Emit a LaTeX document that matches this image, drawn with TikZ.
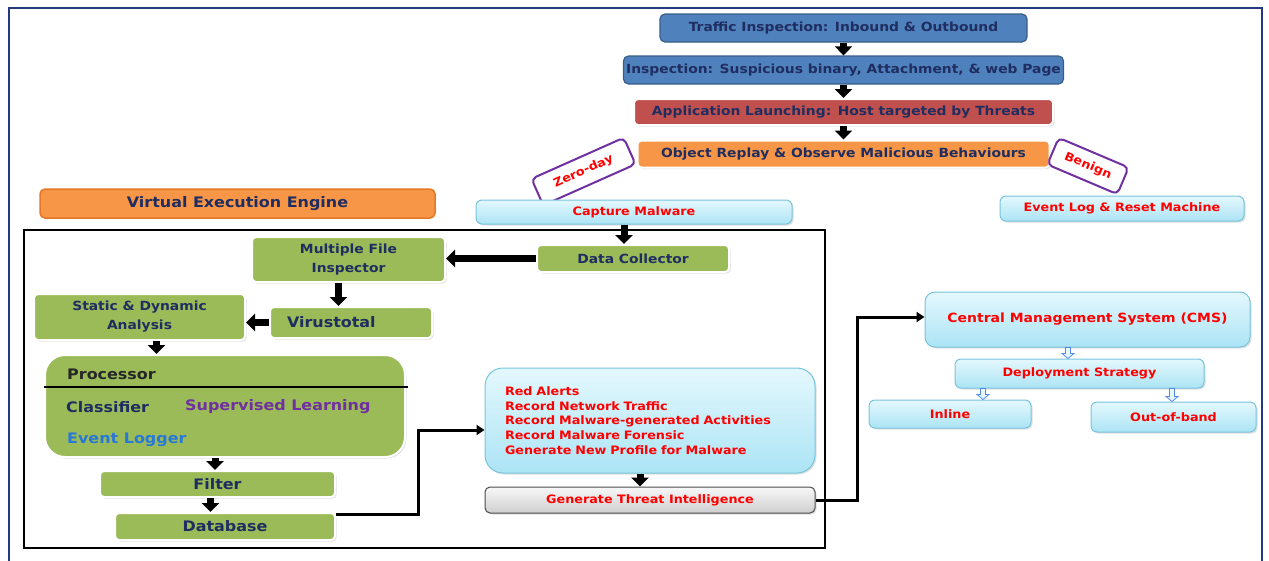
\documentclass[tikz,border=0pt]{standalone}
\usepackage{fontspec}
\setmainfont{DejaVu Sans}[FakeStretch=1.1]
\usetikzlibrary{arrows.meta,shadows,calc,positioning}

\definecolor{navytxt}{RGB}{31,45,96}
\definecolor{boxblue}{RGB}{79,129,189}
\definecolor{edgeblue}{RGB}{56,93,138}
\definecolor{boxred}{RGB}{192,80,77}
\definecolor{boxorange}{RGB}{247,150,70}
\definecolor{edgeorange}{RGB}{228,120,40}
\definecolor{boxgreen}{RGB}{155,187,89}
\definecolor{cyantop}{RGB}{228,248,253}
\definecolor{cyanbot}{RGB}{172,228,245}
\definecolor{cyanedge}{RGB}{120,196,222}
\definecolor{tagpurple}{RGB}{112,48,160}
\definecolor{logblue}{RGB}{40,120,215}
\definecolor{framenavy}{RGB}{36,58,128}
\definecolor{alertred}{RGB}{255,0,0}

\newcommand{\navyfont}{\fontsize{12.6}{19}\selectfont\bfseries}
\newcommand{\redfont}{\fontsize{11.6}{14.8}\selectfont\bfseries}
\newcommand{\bigfont}{\fontsize{14.5}{17}\selectfont\bfseries}

\begin{document}
\begin{tikzpicture}[x=1pt,y=-1pt,node distance=42pt,>=Triangle]
  \tikzstyle{every node}=[inner sep=0pt]
  \tikzstyle{soft}=[drop shadow={opacity=0.25,shadow xshift=1.5pt,shadow yshift=-1.5pt}]
  \tikzstyle{stage}=[rectangle,rounded corners=5pt,draw=edgeblue,fill=boxblue,
                     line width=1.2pt,text=navytxt,font=\navyfont,minimum height=28pt]
  \tikzstyle{glow}=[rectangle,rounded corners=4pt,draw=white,line width=2pt,soft,
                    text=navytxt,font=\navyfont,align=center]
  \tikzstyle{greenbox}=[glow,fill=boxgreen]
  \tikzstyle{cyanbox}=[rectangle,rounded corners=6pt,top color=cyantop,bottom color=cyanbot,
                       draw=cyanedge,line width=1pt,text=alertred,font=\redfont,soft]
  \tikzstyle{tag}=[rectangle,rounded corners=5pt,draw=tagpurple,line width=2pt,fill=white,
                   text=alertred,font=\redfont,minimum height=29pt]
  \tikzstyle{blk}=[-{Triangle[width=17pt,length=9pt]},line width=7pt]
  \tikzstyle{conn}=[-{Triangle[width=10pt,length=8pt]},line width=3pt]
  \tikzstyle{hollow}=[draw=cyanedge!70!blue,fill=cyantop,line width=0.8pt,
    to path={($(\tikztostart)+(-2.5,0)$) -- ($(\tikztotarget)+(-2.5,-5)$)
      -- ($(\tikztotarget)+(-6,-5)$) -- (\tikztotarget) -- ($(\tikztotarget)+(6,-5)$)
      -- ($(\tikztotarget)+(2.5,-5)$) -- ($(\tikztostart)+(2.5,0)$) -- cycle}]

  \useasboundingbox (0,0) rectangle (1269,560);
  \draw[framenavy,line width=2.5pt] (9,562) -- (9,8) -- (1262,8) -- (1262,562);

  % inspection chain
  \node[stage,minimum width=367pt] (t1) at (843.5,28) {Traffic Inspection: Inbound \& Outbound};
  \node[stage,minimum width=440pt] (t2) [below of=t1] {Inspection: Suspicious binary, Attachment, \& web Page};
  \node[glow,fill=boxred,minimum width=419pt,minimum height=26pt] (t3) [below of=t2]
    {Application Launching: Host targeted by Threats};
  \node[glow,fill=boxorange,minimum width=412pt,minimum height=27pt] (t4) [below of=t3]
    {Object Replay \& Observe Malicious Behaviours};
  \draw[blk] (t1.south) -- (t1.south |- t2.north);
  \draw[blk] (t2.south) -- (t2.south |- t3.north);
  \draw[blk] (t3.south) -- (t3.south |- t4.north);

  \node[tag,minimum width=101pt,rotate=24] (zday) at (583.5,171.5) {Zero-day};
  \node[tag,minimum width=76pt,rotate=-23] (benign) at (1088,166) {Benign};

  \node[cyanbox,minimum width=316pt,minimum height=24pt] (capture) at (634,212) {Capture Malware};
  \node[cyanbox,minimum width=244pt,minimum height=25pt] (evlog) at (1122,208.5) {Event Log \& Reset Machine};

  % virtual execution engine
  \node[rectangle,rounded corners=5pt,fill=boxorange,draw=edgeorange,line width=1.5pt,
        text=navytxt,font=\bigfont,minimum width=395pt,minimum height=29pt] (vee) at (237.5,203.5)
    {Virtual Execution Engine};
  \draw[line width=2.5pt] (24,230) rectangle (825,548);

  \node[greenbox,minimum width=192pt,minimum height=27pt] (dc) at (633,258.5) {Data Collector};
  \node[greenbox,minimum width=193pt,minimum height=45pt] (mfi) at (348.5,259.5) {Multiple File\\Inspector};
  \node[greenbox,minimum width=162pt,minimum height=31pt,font=\bigfont,align=left,
        text width=128pt] (vt) at (351,322.5) {Virustotal};
  \node[greenbox,minimum width=211pt,minimum height=46pt] (sda) at (139.5,317) {Static \& Dynamic\\Analysis};
  \node[greenbox,rounded corners=20pt,minimum width=360pt,minimum height=102pt] (proc) at (225,406) {};
  \node[greenbox,minimum width=235pt,minimum height=26pt,font=\bigfont] (filter) at (217.5,484) {Filter};
  \node[greenbox,minimum width=220pt,minimum height=27pt,font=\bigfont] (db) at (225,526.5) {Database};

  \coordinate (sep) at (0,387);
  \draw[line width=1.2pt] (proc.west |- sep) -- ([xshift=2pt]proc.east |- sep);
  \node[anchor=west,font=\bigfont,text=black!85] (ptitle) at (67,374) {Processor};
  \node[anchor=west,font=\bigfont,text=navytxt] (pcls) at (66,407) {Classifier};
  \node[anchor=west,font=\bigfont,text=tagpurple] (psup) at (185,407) {Supervised Learning};
  \node[anchor=west,font=\bigfont,text=logblue] (plog) at (67,440) {Event Logger};

  \draw[blk] ([xshift=-10pt]capture.south) -- ([xshift=-10pt]capture.south |- dc.north);
  \draw[blk] (dc.west) -- (mfi.east |- dc.west);
  \draw[blk] ([xshift=-10pt]mfi.south) -- ([xshift=-10pt]mfi.south |- vt.north);
  \draw[blk] (vt.west) -- (sda.east |- vt.west);
  \draw[blk] ([xshift=17pt]sda.south) -- ([xshift=17pt]sda.south |- proc.north);
  \draw[blk] ([xshift=-10pt]proc.south) -- ([xshift=-10pt]proc.south |- filter.north);
  \draw[blk] ([xshift=-7pt]filter.south) -- ([xshift=-7pt]filter.south |- db.north);

  % alerts and threat intelligence
  \node[cyanbox,rounded corners=18pt,align=left,text width=290pt,inner xsep=20pt,
        minimum height=105pt] (alerts) at (650,420.5)
    {Red Alerts\\Record Network Traffic\\Record Malware-generated Activities\\Record Malware Forensic\\Generate New Profile for Malware};
  \node[rectangle,rounded corners=5pt,top color=gray!6,bottom color=gray!38,draw=gray!60!black,
        line width=1pt,text=alertred,font=\redfont,minimum width=330pt,minimum height=26pt,soft]
    (gti) at (650,500) {Generate Threat Intelligence};
  \draw[blk] ([xshift=-10pt]alerts.south) -- ([xshift=-10pt]alerts.south |- gti.north);

  \coordinate (j1) at (418,430);
  \draw[conn] ([yshift=12.5pt]db.east) -| (j1) -- (alerts.west |- j1);

  % management
  \node[cyanbox,rounded corners=10pt,font=\fontsize{12.7}{15}\selectfont\bfseries,
        minimum width=325pt,minimum height=55pt] (cms) at (1087.5,319.5) {Central Management System (CMS)};
  \node[cyanbox,minimum width=249pt,minimum height=29pt] (ds) at (1079.5,373.5) {Deployment Strategy};
  \node[cyanbox,minimum width=162pt,minimum height=28pt] (inl) at (950,414) {Inline};
  \node[cyanbox,minimum width=165pt,minimum height=30pt] (oob) at (1173.5,417) {Out-of-band};

  \coordinate (j2) at (857,317);
  \draw[conn] (gti.east) -| (j2) -- (cms.west |- j2);

  \coordinate (h1) at (1068,0);
  \coordinate (h2) at (983,0);
  \coordinate (h3) at (1172,0);
  \path[hollow] (cms.south -| h1) to (ds.north -| h1);
  \path[hollow] (ds.south -| h2) to (inl.north -| h2);
  \path[hollow] (ds.south -| h3) to (oob.north -| h3);
\end{tikzpicture}
\end{document}
